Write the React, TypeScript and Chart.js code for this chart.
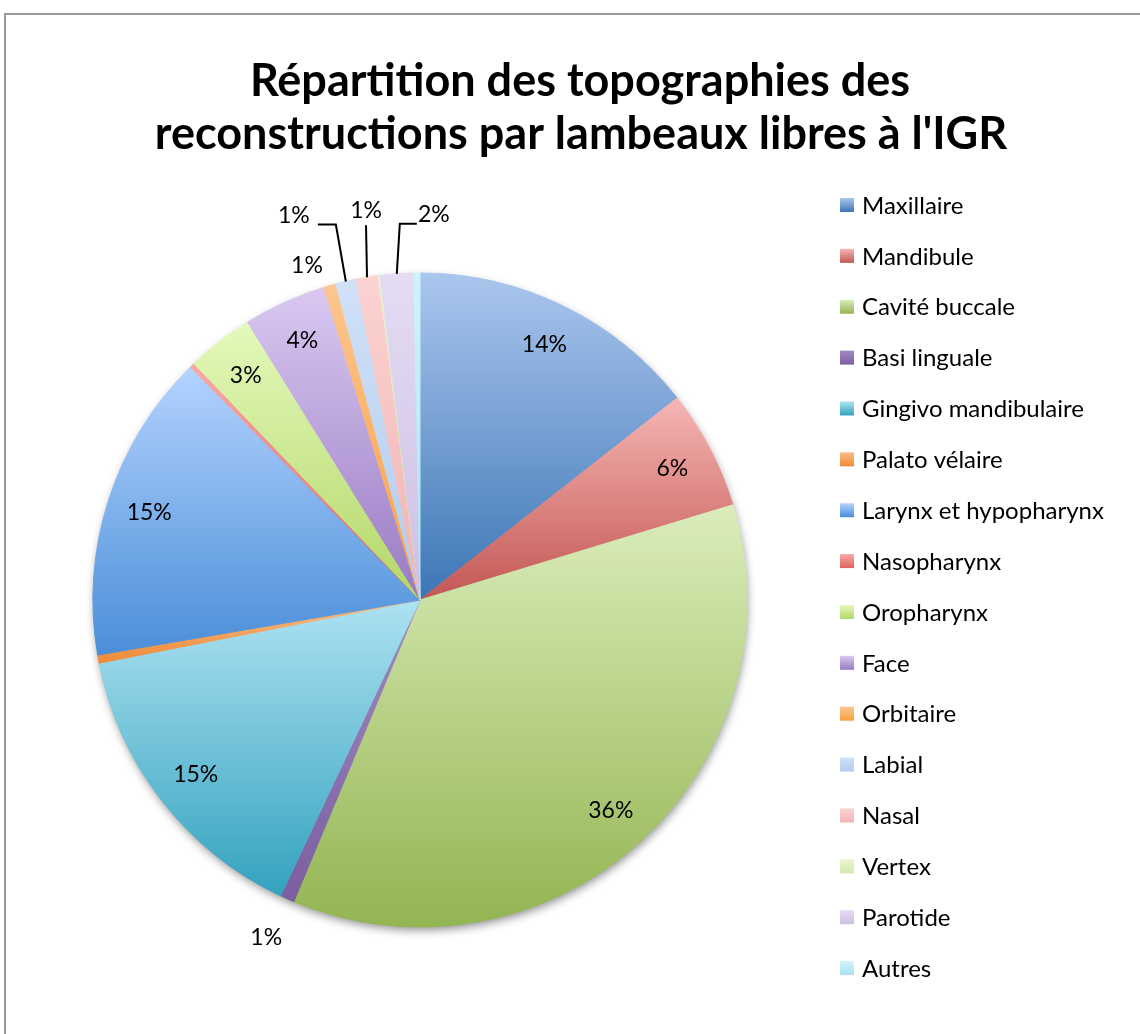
import React, { useEffect, useRef } from 'react';
import { Chart, registerables } from 'chart.js';

Chart.register(...registerables);

const TITLE_LINES = ['Répartition des topographies des', "reconstructions par lambeaux libres à l'IGR"];

const CATEGORIES = [
  'Maxillaire',
  'Mandibule',
  'Cavité buccale',
  'Basi linguale',
  'Gingivo mandibulaire',
  'Palato vélaire',
  'Larynx et hypopharynx',
  'Nasopharynx',
  'Oropharynx',
  'Face',
  'Orbitaire',
  'Labial',
  'Nasal',
  'Vertex',
  'Parotide',
  'Autres',
];

// share of reconstructions (%)
const SHARES = [14.4, 5.9, 36.0, 0.7, 14.9, 0.4, 15.3, 0.25, 3.3, 4.1, 0.6, 1.0, 1.1, 0.08, 1.66, 0.3];

const COLORS_TOP = [
  '#abc6ee', '#f6b6b4', '#dbedbb', '#a08ac2', '#aee2f2', '#fbbd86', '#b4d3ff', '#f8aaa7',
  '#e4f9bc', '#dac8f1', '#fcc690', '#d0e1f8', '#fcd2d2', '#e8f6cf', '#e5dcf3', '#d0f3fc',
];
const COLORS_BOTTOM = [
  '#3c76b5', '#c35754', '#93b552', '#7b5e9f', '#34a2be', '#ee8a37', '#4a8ed8', '#de6461',
  '#b3d768', '#987ac3', '#f9a040', '#b2ccee', '#efb4b3', '#d3e9ae', '#cdbfe4', '#abe1f1',
];

const LABEL_PLACEMENT: any[] = [
  { kind: 'in' },
  { kind: 'in' },
  { kind: 'in' },
  { kind: 'out', dx: -21, dy: 39 },
  { kind: 'in' },
  { kind: 'none' },
  { kind: 'in' },
  { kind: 'none' },
  { kind: 'in' },
  { kind: 'in' },
  { kind: 'out', dx: -23, dy: -20 },
  { kind: 'leader', ex: -10, ey: -57, hx: -18, tx: -24, ty: -9 },
  { kind: 'leader', ex: -1, ey: -52, hx: 0, tx: 0, ty: -15 },
  { kind: 'none' },
  { kind: 'leader', ex: 3, ey: -50, hx: 17, tx: 17, ty: -9 },
  { kind: 'none' },
];

const W = 1140;
const H = 1034;
const RADIUS = 327;
const FONT = 'Lato, "Open Sans", sans-serif';

function sliceGradient(context: any) {
  const i = context.dataIndex;
  const chart = context.chart;
  const area = chart.chartArea;
  if (!area || i === undefined) return COLORS_BOTTOM[i ?? 0];
  const cx = (area.left + area.right) / 2;
  const cy = (area.top + area.bottom) / 2;
  const data = chart.data.datasets[0].data as number[];
  const total = data.reduce((a, b) => a + b, 0);
  let before = 0;
  for (let k = 0; k < i; k++) before += data[k];
  const a0 = (before / total) * Math.PI * 2;
  const a1 = ((before + data[i]) / total) * Math.PI * 2;
  const ys = [cy, cy - RADIUS * Math.cos(a0), cy - RADIUS * Math.cos(a1)];
  if (a0 <= 0.0001) ys.push(cy - RADIUS);
  if (a0 <= Math.PI && a1 >= Math.PI) ys.push(cy + RADIUS);
  let ymin = Math.min(...ys);
  let ymax = Math.max(...ys);
  if (ymax - ymin < 2) ymax = ymin + 2;
  const g = chart.ctx.createLinearGradient(0, ymin, 0, ymax);
  g.addColorStop(0, COLORS_TOP[i]);
  g.addColorStop(1, COLORS_BOTTOM[i]);
  return g;
}

const decorPlugin = {
  id: 'decor',
  beforeDatasetsDraw(chart: any) {
    const meta = chart.getDatasetMeta(0);
    const arc = meta.data[0];
    if (!arc) return;
    const { x, y } = arc.getProps(['x', 'y'], true);
    const ctx = chart.ctx;
    ctx.save();
    ctx.shadowColor = 'rgba(0,0,0,0.45)';
    ctx.shadowBlur = 10;
    ctx.shadowOffsetX = 1;
    ctx.shadowOffsetY = 4;
    ctx.beginPath();
    ctx.arc(x, y, RADIUS - 1, 0, Math.PI * 2);
    ctx.fillStyle = '#ffffff';
    ctx.fill();
    ctx.restore();
  },
  afterDatasetsDraw(chart: any) {
    const ctx = chart.ctx;
    const meta = chart.getDatasetMeta(0);
    const data = chart.data.datasets[0].data as number[];
    const total = data.reduce((a, b) => a + b, 0);
    ctx.save();
    ctx.font = `23px ${FONT}`;
    ctx.fillStyle = '#000';
    ctx.strokeStyle = '#000';
    ctx.lineWidth = 2;
    ctx.textAlign = 'center';
    ctx.textBaseline = 'middle';
    meta.data.forEach((arc: any, i: number) => {
      const pct = Math.round((data[i] / total) * 100);
      const place = LABEL_PLACEMENT[i];
      if (!pct || !place || place.kind === 'none') return;
      const { x, y, startAngle, endAngle, outerRadius } = arc.getProps(
        ['x', 'y', 'startAngle', 'endAngle', 'outerRadius'],
        true
      );
      const mid = (startAngle + endAngle) / 2;
      const text = `${pct}%`;
      if (place.kind === 'in') {
        const r = outerRadius * 0.87;
        ctx.fillText(text, x + Math.cos(mid) * r, y + Math.sin(mid) * r);
      } else {
        const px = x + Math.cos(mid) * outerRadius;
        const py = y + Math.sin(mid) * outerRadius;
        if (place.kind === 'out') {
          ctx.fillText(text, px + place.dx, py + place.dy);
        } else {
          const exx = px + place.ex;
          const eyy = py + place.ey;
          ctx.beginPath();
          ctx.moveTo(px, py);
          ctx.lineTo(exx, eyy);
          if (place.hx) ctx.lineTo(exx + place.hx, eyy);
          ctx.stroke();
          ctx.fillText(text, exx + place.hx + place.tx, eyy + place.ty);
        }
      }
    });
    ctx.restore();
  },
  afterDraw(chart: any) {
    const ctx = chart.ctx;
    const area = chart.chartArea;
    ctx.save();
    // title
    ctx.fillStyle = '#000';
    ctx.textAlign = 'center';
    ctx.textBaseline = 'alphabetic';
    ctx.font = `bold 45px ${FONT}`;
    ctx.fillText(TITLE_LINES[0], 580, 96);
    ctx.fillText(TITLE_LINES[1], 581, 149);
    // legend
    const lx = area.right + 31;
    ctx.font = `24px ${FONT}`;
    ctx.textAlign = 'left';
    ctx.textBaseline = 'middle';
    chart.data.labels.forEach((label: string, i: number) => {
      const yc = 205 + i * 50.87;
      const g = ctx.createLinearGradient(0, yc - 7, 0, yc + 7);
      g.addColorStop(0, COLORS_TOP[i]);
      g.addColorStop(1, COLORS_BOTTOM[i]);
      ctx.fillStyle = g;
      ctx.fillRect(lx, yc - 7, 14, 14);
      ctx.fillStyle = '#000';
      ctx.fillText(label, lx + 22, yc + 1);
    });
    ctx.restore();
  },
};

export default function App() {
  const canvasRef = useRef<HTMLCanvasElement | null>(null);

  useEffect(() => {
    const canvas = canvasRef.current;
    if (!canvas) return;
    const chart = new Chart(canvas, {
      type: 'pie',
      data: {
        labels: CATEGORIES,
        datasets: [
          {
            data: SHARES,
            backgroundColor: sliceGradient as any,
            borderColor: sliceGradient as any,
            borderWidth: 1,
          },
        ],
      },
      options: {
        responsive: false,
        maintainAspectRatio: false,
        animation: false,
        events: [],
        radius: RADIUS,
        layout: { padding: { left: 31, right: 331, top: 166, bottom: 0 } },
        plugins: {
          title: { display: false },
          legend: { display: false },
          tooltip: { enabled: false },
        },
      } as any,
      plugins: [decorPlugin],
    });
    return () => chart.destroy();
  }, []);

  return (
    <div
      style={{
        position: 'absolute',
        left: 0,
        top: 0,
        width: W,
        height: H,
        overflow: 'hidden',
        background: '#fff',
      }}
    >
      <canvas ref={canvasRef} width={W} height={H} style={{ display: 'block', width: W, height: H }} />
      <div
        style={{
          position: 'absolute',
          left: 4,
          top: 13,
          width: W + 50,
          height: H + 50,
          borderLeft: '2px solid #9a9a9a',
          borderTop: '2px solid #9a9a9a',
          pointerEvents: 'none',
        }}
      />
    </div>
  );
}
